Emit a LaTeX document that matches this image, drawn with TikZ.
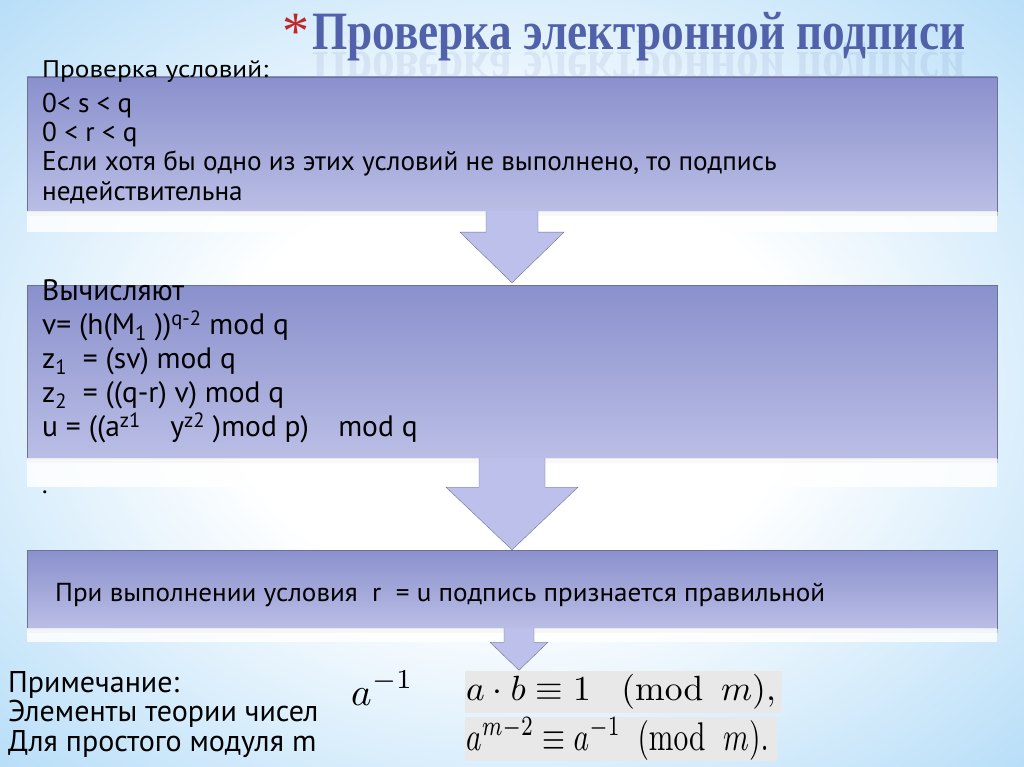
\documentclass[tikz,border=0pt]{standalone}
\usepackage{amsmath}
\usepackage{graphicx}
\usepackage[no-math]{fontspec}
\setmainfont{PT Sans}
\newfontfamily\titlefont{Liberation Serif}
\usetikzlibrary{calc,shadows,positioning}

\definecolor{bgblue}{RGB}{162,212,246}
\definecolor{boxtop}{RGB}{138,144,204}
\definecolor{boxbot}{RGB}{186,190,230}
\definecolor{boxline}{RGB}{108,114,150}
\definecolor{arrowfill}{RGB}{188,192,234}
\definecolor{titleblue}{RGB}{82,98,170}
\definecolor{starred}{RGB}{192,40,40}
\definecolor{formulagray}{RGB}{232,232,232}

\pgfdeclareradialshading{glow}{\pgfpoint{0bp}{0bp}}{color(0bp)=(white); color(14bp)=(white); color(42bp)=(bgblue); color(50bp)=(bgblue)}

\tikzset{
  stepbox/.style={draw=boxline, top color=boxtop, bottom color=boxbot,
    minimum width=970pt, inner sep=0pt,
    drop shadow={shadow xshift=1pt, shadow yshift=-5pt, opacity=0.25, fill=black!70}},
  blockarrow/.style={draw=boxline, fill=arrowfill, line join=miter, thin},
  band/.style={fill=white, opacity=0.85},
  bodytext/.style={anchor=base west, inner sep=0pt, align=left},
}
\newcommand{\bigmath}[2]{\scalebox{#1}{$\displaystyle #2$}}

\begin{document}
\begin{tikzpicture}[x=1pt,y=1pt]
  \useasboundingbox (0,0) rectangle (1024,-767);
  % background
  \shade[shading=glow] (0,0) rectangle (1024,-767);

  % title
  \node[anchor=base west, inner sep=0pt, text=starred] (star) at (282,-50)
    {\titlefont\fontsize{54}{54}\selectfont *};
  \node[anchor=base west, inner sep=0pt, text=titleblue] (title) at (312,-50)
    {\resizebox{653pt}{\height}{\titlefont\bfseries\fontsize{54}{54}\selectfont Проверка электронной подписи}};
  \node[anchor=base west, inner sep=0pt, text=titleblue, opacity=0.1, yscale=-1, transform shape] (titlemirror) at (312,-53)
    {\resizebox{653pt}{\height}{\titlefont\bfseries\fontsize{54}{54}\selectfont Проверка электронной подписи}};

  % boxes
  \node[stepbox, minimum height=134pt] (check) at (512,-144) {};
  \node[stepbox, minimum height=173pt] (calc) at (512,-371.5) {};
  \node[stepbox, minimum height=78pt] (result) at (512,-589) {};

  % white bands under the boxes
  \fill[band] (check.south west) rectangle ($(check.south east)+(0,-21)$);
  \fill[band] (calc.south west) rectangle ($(calc.south east)+(0,-29)$);
  \fill[band] (result.south west) rectangle ($(result.south east)+(0,-14)$);

  % arrows
  \draw[blockarrow] ($(check.south)+(-26,0)$) -- ++(0,-21) -- ++(-26,0)
    -- ($(calc.north)+(0,2)$) -- ($(check.south)+(52,-21)$) -- ++(-26,0) -- ($(check.south)+(26,0)$);
  \draw[blockarrow] ($(calc.south)+(-33,0)$) -- ++(0,-29) -- ++(-33,0)
    -- (result.north) -- ($(calc.south)+(66,-29)$) -- ++(-33,0) -- ($(calc.south)+(33,0)$);
  \coordinate (tip) at ($(result.south)+(7,-42)$);
  \draw[blockarrow] ($(result.south)+(-8,0)$) -- ++(0,-14) -- ++(-14,0)
    -- (tip) -- ($(result.south)+(36,-14)$) -- ++(-14,0) -- ($(result.south)+(22,0)$);

  % texts of the boxes
  \node[bodytext] (checkhead) at (42,-78)
    {\resizebox{226pt}{\height}{\fontsize{24}{29}\selectfont Проверка условий:}};
  \node[bodytext, font=\fontsize{27.2}{29.2}\selectfont, anchor=north west] (checktext) at (42,-93)
    {0< s < q\\ 0 < r < q\\ Если хотя бы одно из этих условий не выполнено, то подпись\\ недействительна};
  \node[bodytext, font=\fontsize{29.5}{34}\selectfont, anchor=north west] (calctext) at (42,-279)
    {Вычисляют\\
     v= (h(M\textsubscript{1} ))\textsuperscript{q-2} mod q\\
     z\textsubscript{1}\ \ = (sv) mod q\\
     z\textsubscript{2}\ \ = ((q-r) v) mod q\\
     u = ((a\textsuperscript{z1}\quad y\textsuperscript{z2} )mod p)\quad mod q};
  \node[bodytext, font=\fontsize{26}{29}\selectfont] (dot) at (42,-493) {.};
  \node[bodytext] (resulttext) at (55,-601)
    {\resizebox{770pt}{\height}{\fontsize{26}{29}\selectfont При выполнении условия\ \ r\ \ = u подпись признается правильной}};

  % note
  \node[bodytext, font=\fontsize{30}{29.5}\selectfont, anchor=north west] (note) at (8,-671)
    {Примечание:\\ Элементы теории чисел\\ Для простого модуля m};

  % formulas
  \node[bodytext] (inv) at (351,-705) {\bigmath{3.9}{a^{-1}}};
  \fill[formulagray] (465,-671) rectangle (782,-713);
  \fill[formulagray] (465,-717) rectangle (777,-761);
  \node[bodytext] (euler) at (466,-700)
    {\scalebox{3.55}[3.5]{$a\cdot b\equiv 1\hspace{8.6pt}(\mathrm{mod}\hspace{5pt}m),$}};
  \node[bodytext] (fermat) at (466,-750)
    {\scalebox{2.95}[4.0]{$a^{m-2}\equiv a^{-1}\hspace{5.6pt}(\mathrm{mod}\hspace{6pt}m).$}};
\end{tikzpicture}
\end{document}
